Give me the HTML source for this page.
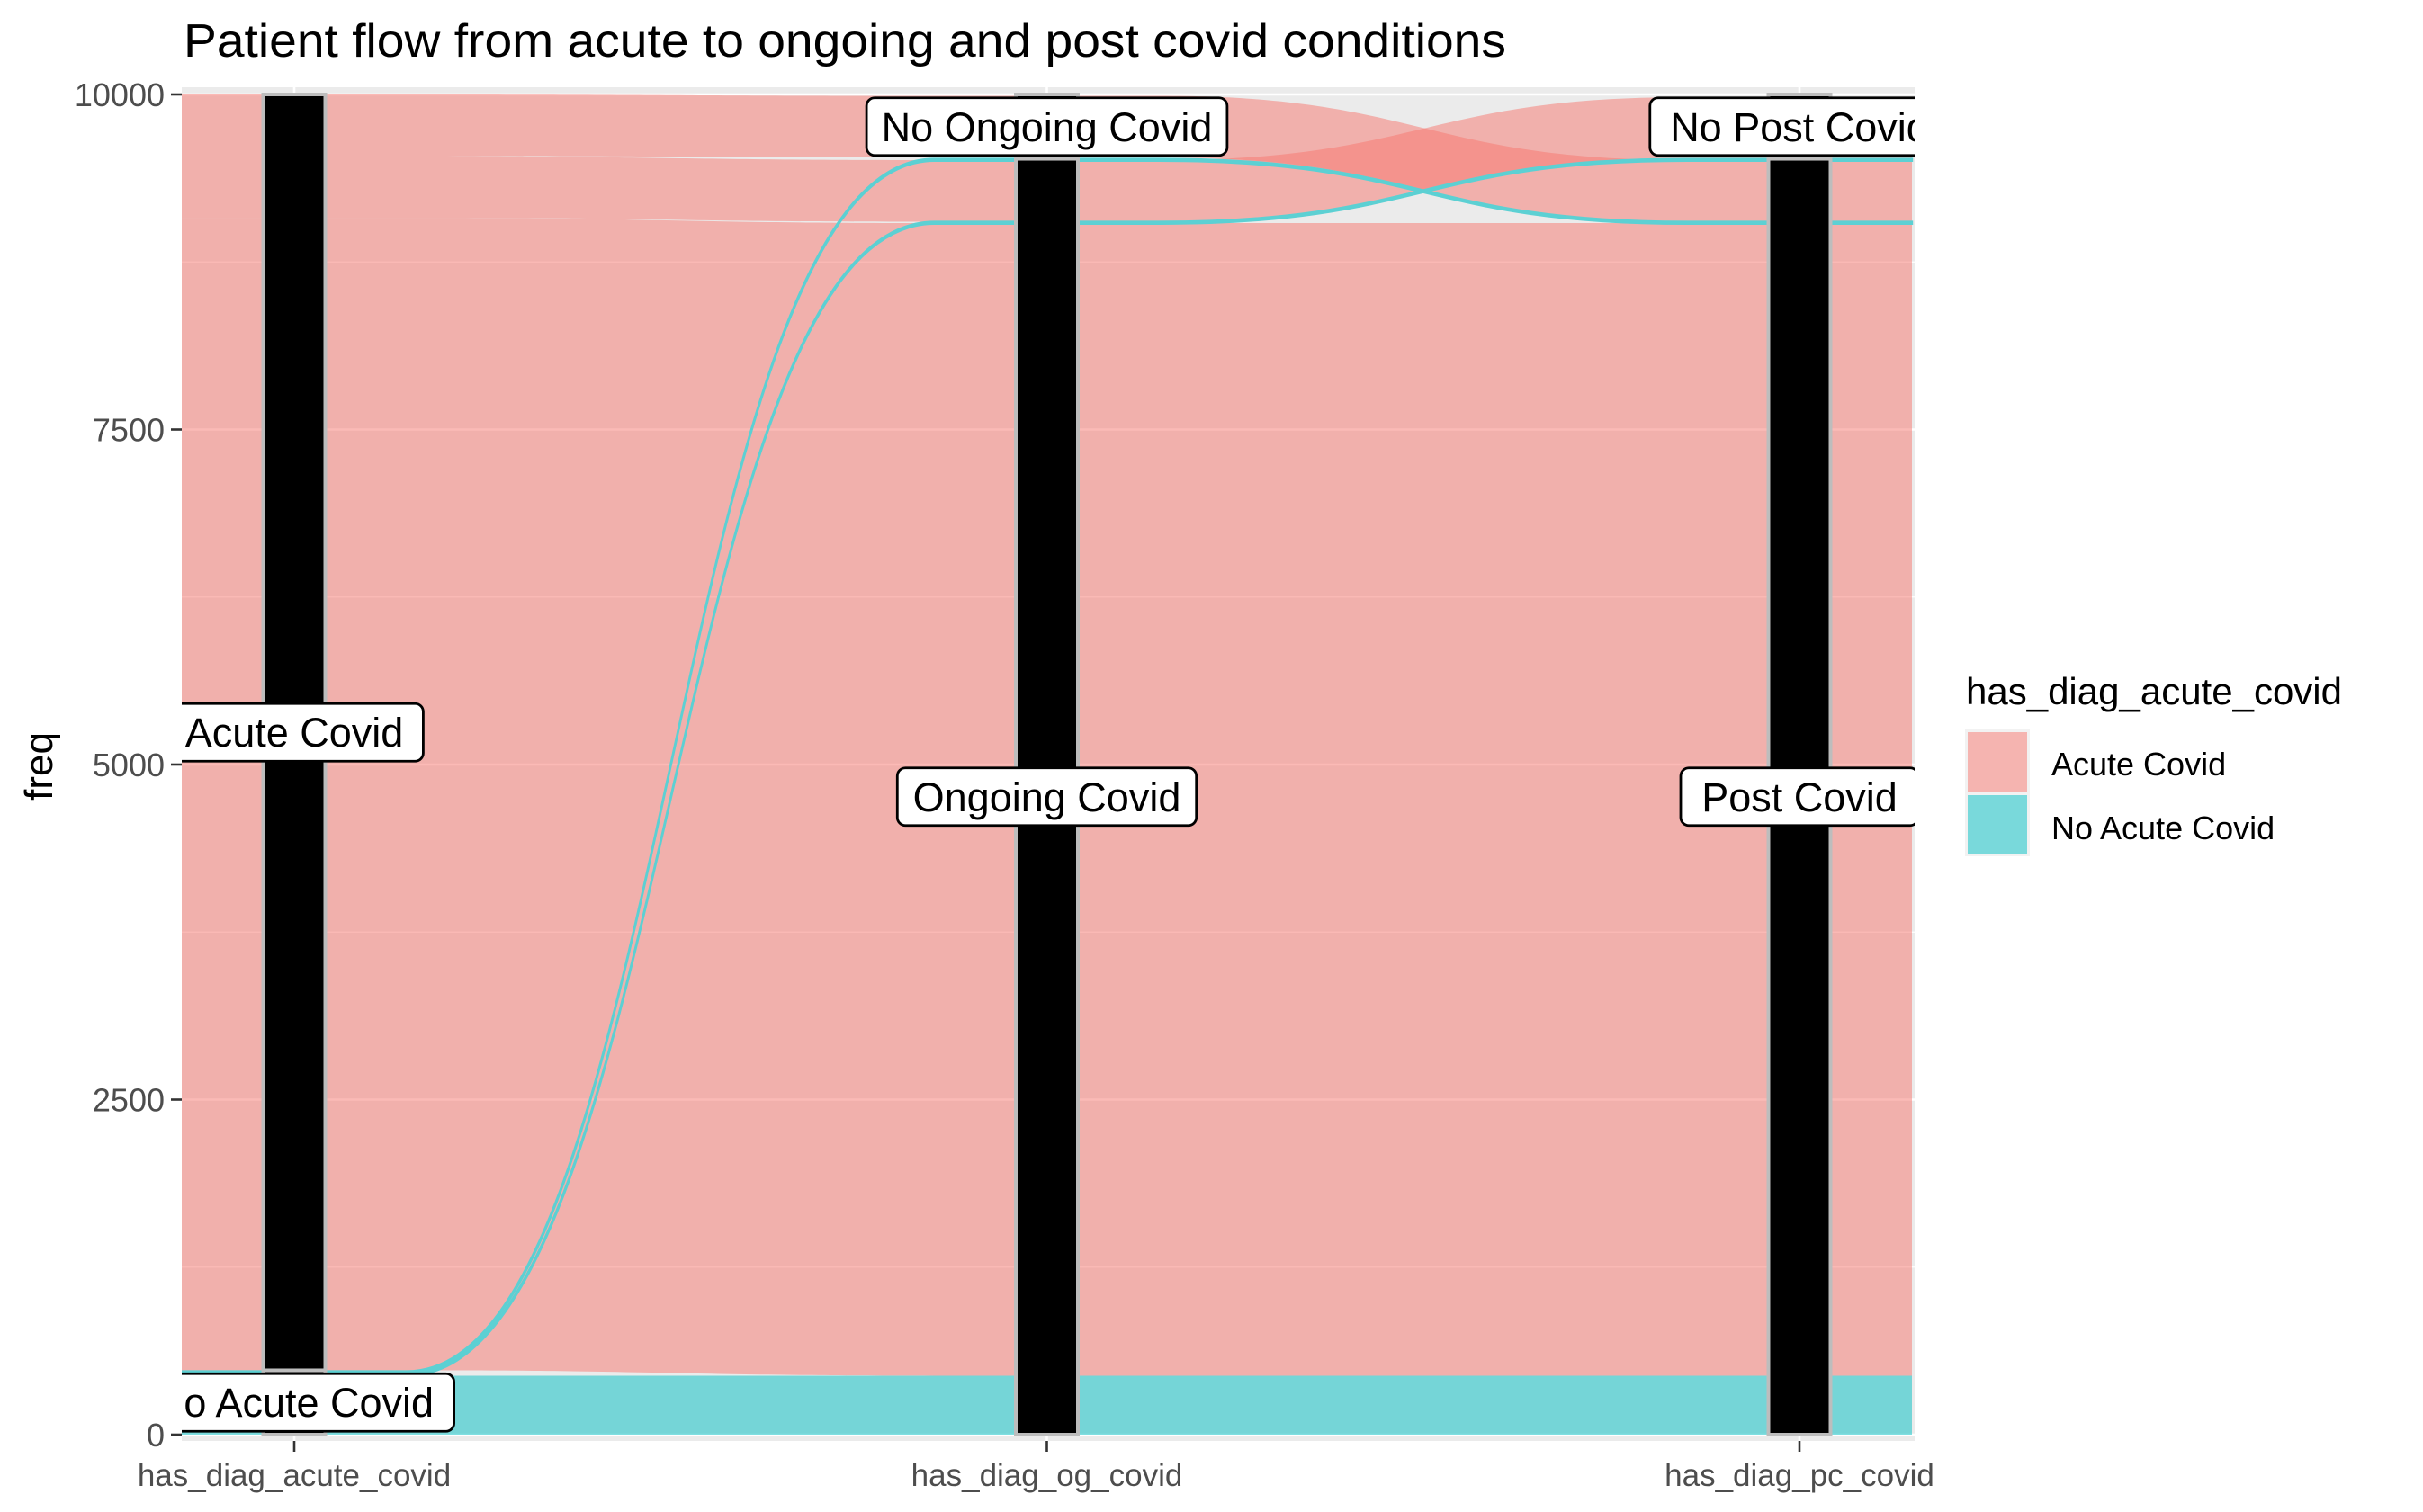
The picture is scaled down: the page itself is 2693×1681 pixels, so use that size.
<!DOCTYPE html>
<html><head><meta charset="utf-8"><style>
html,body{margin:0;padding:0;background:#fff;}
svg{display:block;font-family:"Liberation Sans",Arial,sans-serif;}
</style></head><body>
<svg id="chart" width="2693" height="1681" viewBox="0 0 2693 1681" xmlns="http://www.w3.org/2000/svg">
<defs><clipPath id="panelClip"><rect x="202" y="97" width="1926" height="1505"/></clipPath></defs>
<text x="204" y="63" font-size="52" fill="#000" textLength="1470" lengthAdjust="spacingAndGlyphs">Patient flow from acute to ongoing and post covid conditions</text>
<rect x="202" y="97" width="1926" height="1505" fill="#EBEBEB"/>
<g id="grid"></g>
<g id="flows" clip-path="url(#panelClip)"></g>
<g id="strata" clip-path="url(#panelClip)"></g>
<g id="labels" clip-path="url(#panelClip)"></g>
<g id="axes"></g>
<text transform="translate(58,852) rotate(-90)" text-anchor="middle" font-size="44" fill="#000">freq</text>
<g>
<text x="2185" y="783" font-size="42" fill="#000">has_diag_acute_covid</text>
<rect x="2184" y="811" width="72" height="141" fill="#F2F2F2"/>
<rect x="2187" y="814" width="66" height="66" fill="#F8766D" fill-opacity="0.5"/>
<rect x="2187" y="884" width="66" height="66" fill="#00BFC4" fill-opacity="0.5"/>
<text x="2280" y="862" font-size="36" fill="#000">Acute Covid</text>
<text x="2280" y="933" font-size="36" fill="#000">No Acute Covid</text>
</g>
</svg>
<script>
const axisNames = ['has_diag_acute_covid','has_diag_og_covid','has_diag_pc_covid'];
const yTicks = [0, 2500, 5000, 7500, 10000];
const yTickLabels = ['0','2500','5000','7500','10000'];
const yMinor = [1250, 3750, 6250, 8750];
// alluvia: group, count, lower value at each axis
const alluviumGroup = ['No Acute Covid','No Acute Covid','No Acute Covid','Acute Covid','Acute Covid','Acute Covid'];
const alluviumCount = [440, 15, 15, 8600, 460, 460];
const lowerAxis1 = [0, 440, 458, 480, 9080, 9540];
const lowerAxis2 = [0, 9035, 9505, 440, 9050, 9530];
const lowerAxis3 = [0, 9505, 9035, 440, 9520, 9050];
// strata
const strataAxis = [0, 0, 1, 1, 2, 2];
const strataLow = [0, 480, 0, 9520, 0, 9520];
const strataHigh = [480, 10000, 9520, 10000, 9520, 10000];
const strataNames = ['No Acute Covid','Acute Covid','Ongoing Covid','No Ongoing Covid','Post Covid','No Post Covid'];

const NS = 'http://www.w3.org/2000/svg';
const X0 = 327, DX = 836.5, LODE = 125;
function xPos(i){ return X0 + i*DX; }
function yPos(v){ return 1595 - v*(1490/10000); }
function mk(tag, attrs, parent){ const e=document.createElementNS(NS,tag); for(const k in attrs) e.setAttribute(k, attrs[k]); parent.appendChild(e); return e; }

const grid = document.getElementById('grid');
yMinor.forEach(v=>{
  const l = mk('line',{x1:202,x2:2128,y1:yPos(v),y2:yPos(v),stroke:'#fff','stroke-width':1.3},grid);
  
  
});
yTicks.forEach(v=>{
  const l = mk('line',{x1:202,x2:2128,y1:yPos(v),y2:yPos(v),stroke:'#fff','stroke-width':2.6},grid);
  
  
});
axisNames.forEach((a,i)=>{
  const l = mk('line',{x1:xPos(i),x2:xPos(i),y1:97,y2:1602,stroke:'#fff','stroke-width':2.6},grid);
  
  
});

const flows = document.getElementById('flows');
const lowers = [lowerAxis1, lowerAxis2, lowerAxis3];
function bandPath(k){
  const c = alluviumCount[k];
  let d = '';
  const xs=[], lo=[], hi=[];
  for(let i=0;i<3;i++){ xs.push(xPos(i)); lo.push(yPos(lowers[i][k])); hi.push(yPos(lowers[i][k]+c)); }
  d += 'M'+(xs[0]-LODE)+','+hi[0]+' L'+(xs[0]+LODE)+','+hi[0];
  for(let i=0;i<2;i++){
    const a=xs[i]+LODE, b=xs[i+1]-LODE, m=(a+b)/2;
    d += ' C'+m+','+hi[i]+' '+m+','+hi[i+1]+' '+b+','+hi[i+1];
    d += ' L'+(xs[i+1]+LODE)+','+hi[i+1];
  }
  d += ' L'+(xs[2]+LODE)+','+lo[2]+' L'+(xs[2]-LODE)+','+lo[2];
  for(let i=2;i>0;i--){
    const a=xs[i]-LODE, b=xs[i-1]+LODE, m=(a+b)/2;
    d += ' C'+m+','+lo[i]+' '+m+','+lo[i-1]+' '+b+','+lo[i-1];
    d += ' L'+(xs[i-1]-LODE)+','+lo[i-1];
  }
  return d+' Z';
}
const order = alluviumCount.map((c,k)=>k).sort((a,b)=>(alluviumCount[a]<50?1:0)-(alluviumCount[b]<50?1:0));
order.forEach(k=>{
  const c = alluviumCount[k];
  const teal = alluviumGroup[k]==='No Acute Covid';
  const thin = c < 50;
  const p = mk('path',{d:bandPath(k),fill:teal?'#00BFC4':'#F8766D','fill-opacity':0.5,
    stroke:thin?'#5CD0D3':'none','stroke-width':thin?2.4:0},flows);
  
  
});

const strata = document.getElementById('strata');
strataNames.forEach((n,j)=>{
  const cx = xPos(strataAxis[j]);
  const y1 = yPos(strataHigh[j]), y2 = yPos(strataLow[j]);
  const r = mk('rect',{x:cx-34.5,y:y1,width:69,height:y2-y1,fill:'#000',stroke:'#BDBDBD','stroke-width':4},strata);
  
  
});

const labels = document.getElementById('labels');
strataNames.forEach((n,j)=>{
  const cx = xPos(strataAxis[j]);
  let cy = yPos((strataLow[j]+strataHigh[j])/2);
  const w = n.length*22.8 + 36;
  const g = mk('g',{},labels);
  
  
  mk('rect',{x:cx-w/2,y:cy-32,width:w,height:64,rx:9,fill:'#fff',stroke:'#000','stroke-width':2.8},g);
  const t = mk('text',{x:cx,y:cy+16,'text-anchor':'middle','font-size':45,fill:'#000'},g);
  t.textContent = n;
});

const axes = document.getElementById('axes');
yTicks.forEach((v,i)=>{
  const l = mk('line',{x1:190,x2:202,y1:yPos(v),y2:yPos(v),stroke:'#333','stroke-width':2.6},axes);
  
  
  const t = mk('text',{x:183,y:yPos(v)+13,'text-anchor':'end','font-size':36,fill:'#4D4D4D'},axes);
  t.textContent = yTickLabels[i];
  
  
});
axisNames.forEach((a,i)=>{
  const l = mk('line',{x1:xPos(i),x2:xPos(i),y1:1602,y2:1614,stroke:'#333','stroke-width':2.6},axes);
  
  
  const t = mk('text',{x:xPos(i),y:1652,'text-anchor':'middle','font-size':35,fill:'#4D4D4D'},axes);
  t.textContent = a;
  
  
});
</script>
</body></html>
